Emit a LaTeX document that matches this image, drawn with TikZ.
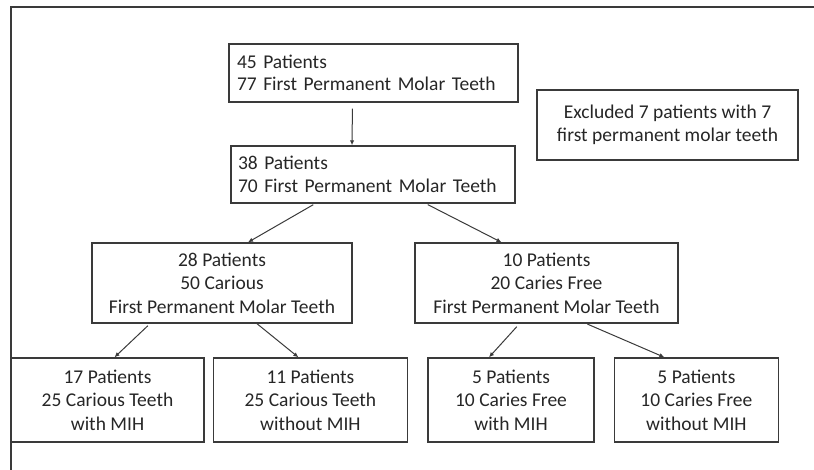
\documentclass[tikz,border=0pt]{standalone}
\usepackage{fontspec}
\setmainfont{Carlito}
\usepackage{tikz}
\usetikzlibrary{arrows.meta, positioning}
\definecolor{inkgray}{HTML}{3A3A3A}
\definecolor{textgray}{HTML}{262626}
\tikzset{
group/.style={
    rectangle,
    draw=inkgray,
    line width=1.4pt,
    text=textgray,
    inner sep=0pt,
    font=\fontsize{19.5}{23.5}\selectfont,
    align=center
},
flow/.style={
    ->,
    draw=inkgray,
    line width=1pt
}}

\begin{document}
\begin{tikzpicture}[
        x=1pt, y=-1pt,
        >={Latex[length=5pt, width=4.5pt]}
    ]
    \useasboundingbox (0,0) rectangle (814,470);

    % page frame
    \draw[inkgray, line width=1.2pt] (11,470) -- (11,7) -- (814,7);

    % node placement
    \node[group, minimum width=289pt, minimum height=58pt, text width=273pt, align=left,
          font=\fontsize{19.5}{21.5}\selectfont] (P45) at (373.5,73)
        {45 Patients\\77 First Permanent Molar Teeth};
    \node[group, minimum width=261pt, minimum height=70pt] (EX) at (667.5,125)
        {Excluded 7 patients with 7\\first permanent molar teeth};
    \node[group, minimum width=284pt, minimum height=57pt, text width=270pt, align=left] (P38) at (373,174.5)
        {38 Patients\\70 First Permanent Molar Teeth};

    \node[group, minimum width=260pt, minimum height=80pt] (P28) at (222,283)
        {28 Patients\\50 Carious\\First Permanent Molar Teeth};
    \node[group, minimum width=263pt, minimum height=80pt] (P10) at (546.5,283)
        {10 Patients\\20 Caries Free\\First Permanent Molar Teeth};

    \node[group, minimum width=193pt, minimum height=84pt] (P17) at (107.5,400)
        {17 Patients\\25 Carious Teeth\\with MIH};
    \node[group, minimum width=194pt, minimum height=84pt, right=8pt of P17] (P11)
        {11 Patients\\25 Carious Teeth\\without MIH};
    \node[group, minimum width=166pt, minimum height=84pt] (P5a) at (511,400)
        {5 Patients\\10 Caries Free\\with MIH};
    \node[group, minimum width=164pt, minimum height=84pt, right=19pt of P5a] (P5b)
        {5 Patients\\10 Caries Free\\without MIH};

    % edges
    \draw[flow, shorten <=6pt] ([xshift=-21pt]P45.south) -- ([xshift=-21pt]P38.north);
    \draw[flow, shorten <=2pt] ([xshift=-58pt]P38.south) -- ([xshift=26pt]P28.north);
    \draw[flow, shorten <=2pt] ([xshift=53pt]P38.south) -- ([xshift=-45pt]P10.north);
    \draw[flow, shorten <=3pt] ([xshift=-72pt]P28.south) -- ([xshift=7pt]P17.north);
    \draw[flow] ([xshift=35pt]P28.south) -- ([xshift=-12pt]P11.north);
    \draw[flow, shorten <=4pt] ([xshift=-27pt]P10.south) -- ([xshift=-22pt]P5a.north);
    \draw[flow, shorten <=1pt] ([xshift=40pt]P10.south) -- ([xshift=-32pt]P5b.north);

\end{tikzpicture}
\end{document}
